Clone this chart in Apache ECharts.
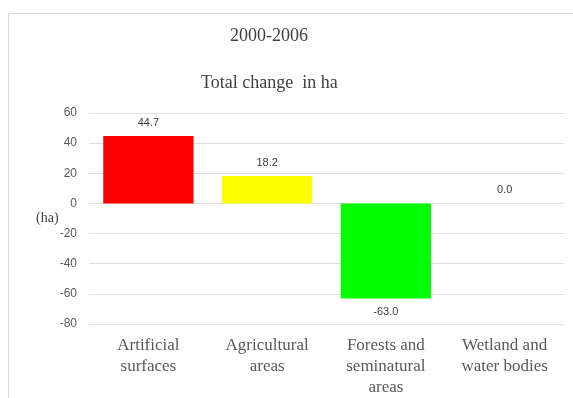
<!DOCTYPE html>
<html>
<head>
<meta charset="utf-8">
<script src="https://cdn.jsdelivr.net/npm/echarts@6/dist/echarts.min.js"></script>
<style>
  html, body { margin: 0; padding: 0; background: #fff; }
  #chart { width: 573px; height: 398px; }
</style>
</head>
<body>
<div id="chart"></div>
<script>
var chart = echarts.init(document.getElementById('chart'));

var categories = ['Artificial\nsurfaces', 'Agricultural\nareas', 'Forests and\nseminatural\nareas', 'Wetland and\nwater bodies'];
var values = [44.7, 18.2, -63.0, 0.0];
var barColors = ['#ff0000', '#ffff00', '#00ff00', '#7f7f7f'];

var serif = '"Liberation Serif", "DejaVu Serif", serif';
var sans = '"Liberation Sans", Arial, sans-serif';

var option = {
    animation: false,
    backgroundColor: '#fff',
    title: [
        { text: '2000-2006', left: 225, top: 22, textStyle: { fontFamily: serif, fontWeight: 'normal', fontSize: 18, color: '#404040' } },
        { text: 'Total change  in ha', left: 196, top: 69, textStyle: { fontFamily: serif, fontWeight: 'normal', fontSize: 18, color: '#404040' } }
    ],
    graphic: [
        { type: 'rect', shape: { x: 8.5, y: 13.5, width: 600, height: 500 }, style: { fill: 'none', stroke: '#d9d9d9', lineWidth: 1 }, silent: true },
        { type: 'text', left: 36, top: 211, style: { text: '(ha)', font: '14px ' + serif, fill: '#404040' } }
    ],
    grid: { left: 89, right: 9, top: 113, bottom: 72 },
    xAxis: {
        type: 'category',
        data: categories,
        position: 'bottom',
        axisLine: { show: false },
        axisTick: { show: false },
        axisLabel: { fontFamily: serif, fontSize: 17, color: '#595959', lineHeight: 21, margin: 11, interval: 0 }
    },
    yAxis: {
        type: 'value',
        min: -80, max: 60, interval: 20,
        axisLine: { show: false },
        axisTick: { show: false },
        axisLabel: { fontFamily: sans, fontSize: 12, color: '#595959', margin: 12 },
        splitLine: { lineStyle: { color: '#dedede', width: 1 } }
    },
    series: [{
        type: 'bar',
        barCategoryGap: '24%',
        data: values.map(function (v, i) {
            return {
                value: v,
                itemStyle: { color: barColors[i] },
                label: { position: v < 0 ? 'bottom' : 'top' }
            };
        }),
        label: {
            show: true,
            distance: 8,
            fontFamily: sans,
            fontSize: 11,
            color: '#404040',
            formatter: function (p) { return p.value.toFixed(1); }
        }
    }]
};

chart.setOption(option);
</script>
</body>
</html>
